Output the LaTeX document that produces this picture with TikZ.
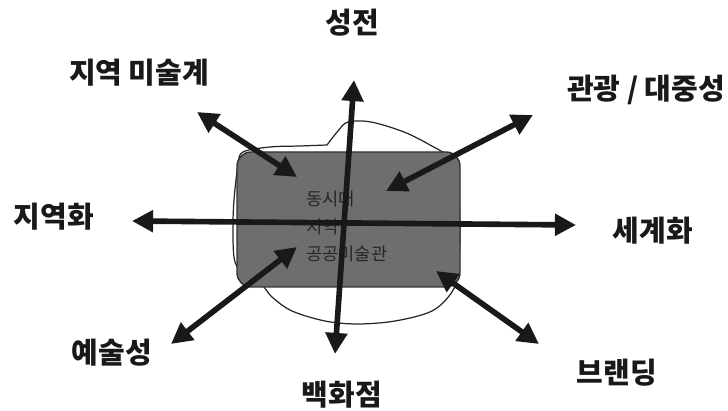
\documentclass[tikz,border=0pt]{standalone}
\usepackage{fontspec}
\newfontfamily\krfont{Noto Sans CJK KR}
\usetikzlibrary{arrows.meta}

\begin{document}
\begin{tikzpicture}[
    x=0.02cm, y=-0.02cm,
    every node/.style={font=\krfont},
    axisarrow/.style={line width=3.2pt, black!90,
        {Triangle[length=12pt,width=12pt]}-{Triangle[length=12pt,width=12pt]}},
    axislabel/.style={font=\krfont\bfseries\fontsize{16.5}{19}\selectfont, text=black!90},
    corelabel/.style={anchor=west, inner sep=0pt, font=\krfont\fontsize{10}{12}\selectfont, text=black!85},
]
\useasboundingbox (0,0) rectangle (728,411);

% === hand-drawn outline behind the box ===
\draw[line width=0.7pt, black!85] plot[smooth, tension=0.55] coordinates {
    (327,145) (338,131) (348,122) (371,122) (404,132) (430,145) (450,158)
    (458,180) (460,234) (458,272) (452,292) (432,311) (395,321) (357,324)
    (325,321) (292,311) (272,297) (262,285) (248,278) (235,262) (233,230)
    (234,200) (238,165) (243,152) (270,147) (300,146) (327,145)};

% === central box ===
\fill[black!57, draw=black!80, line width=0.8pt, rounded corners=8pt]
    (237,152) rectangle (460,287);
\node[corelabel] (core1) at (306,199) {동시대};
\node[corelabel] (core2) at (306,227) {지역};
\node[corelabel] (core3) at (306,254) {공공미술관};

% === axis labels ===
\node[axislabel] (sacred)   at (352,23)  {성전};
\node[axislabel] (dept)     at (342,395) {백화점};
\node[axislabel] (local)    at (54,217)  {지역화};
\node[axislabel] (global)   at (653,231) {세계화};
\node[axislabel] (artworld) at (139,73)  {지역 미술계};
\node[axislabel] (tourism)  at (646,90)  {관광 / 대중성};
\node[axislabel] (artistry) at (112,353) {예술성};
\node[axislabel] (branding) at (617,373) {브랜딩};

% === arrow ends ===
\coordinate (vTop) at (354,80);
\coordinate (vBot) at (335,354);
\coordinate (hLeft) at (132,221);
\coordinate (hRight) at (576,225);
\coordinate (ulOut) at (197,112);
\coordinate (ulIn) at (297,177);
\coordinate (urOut) at (533,115);
\coordinate (urIn) at (386,191);
\coordinate (llOut) at (171,344);
\coordinate (llIn) at (297,247);
\coordinate (lrOut) at (539,344);
\coordinate (lrIn) at (436,271);

% === arrows ===
\draw[axisarrow] (hLeft) -- (hRight);
\draw[axisarrow] (vBot) -- (vTop);
\draw[axisarrow] (ulOut) -- (ulIn);
\draw[axisarrow] (urOut) -- (urIn);
\draw[axisarrow] (llOut) -- (llIn);
\draw[axisarrow] (lrOut) -- (lrIn);

\end{tikzpicture}
\end{document}
